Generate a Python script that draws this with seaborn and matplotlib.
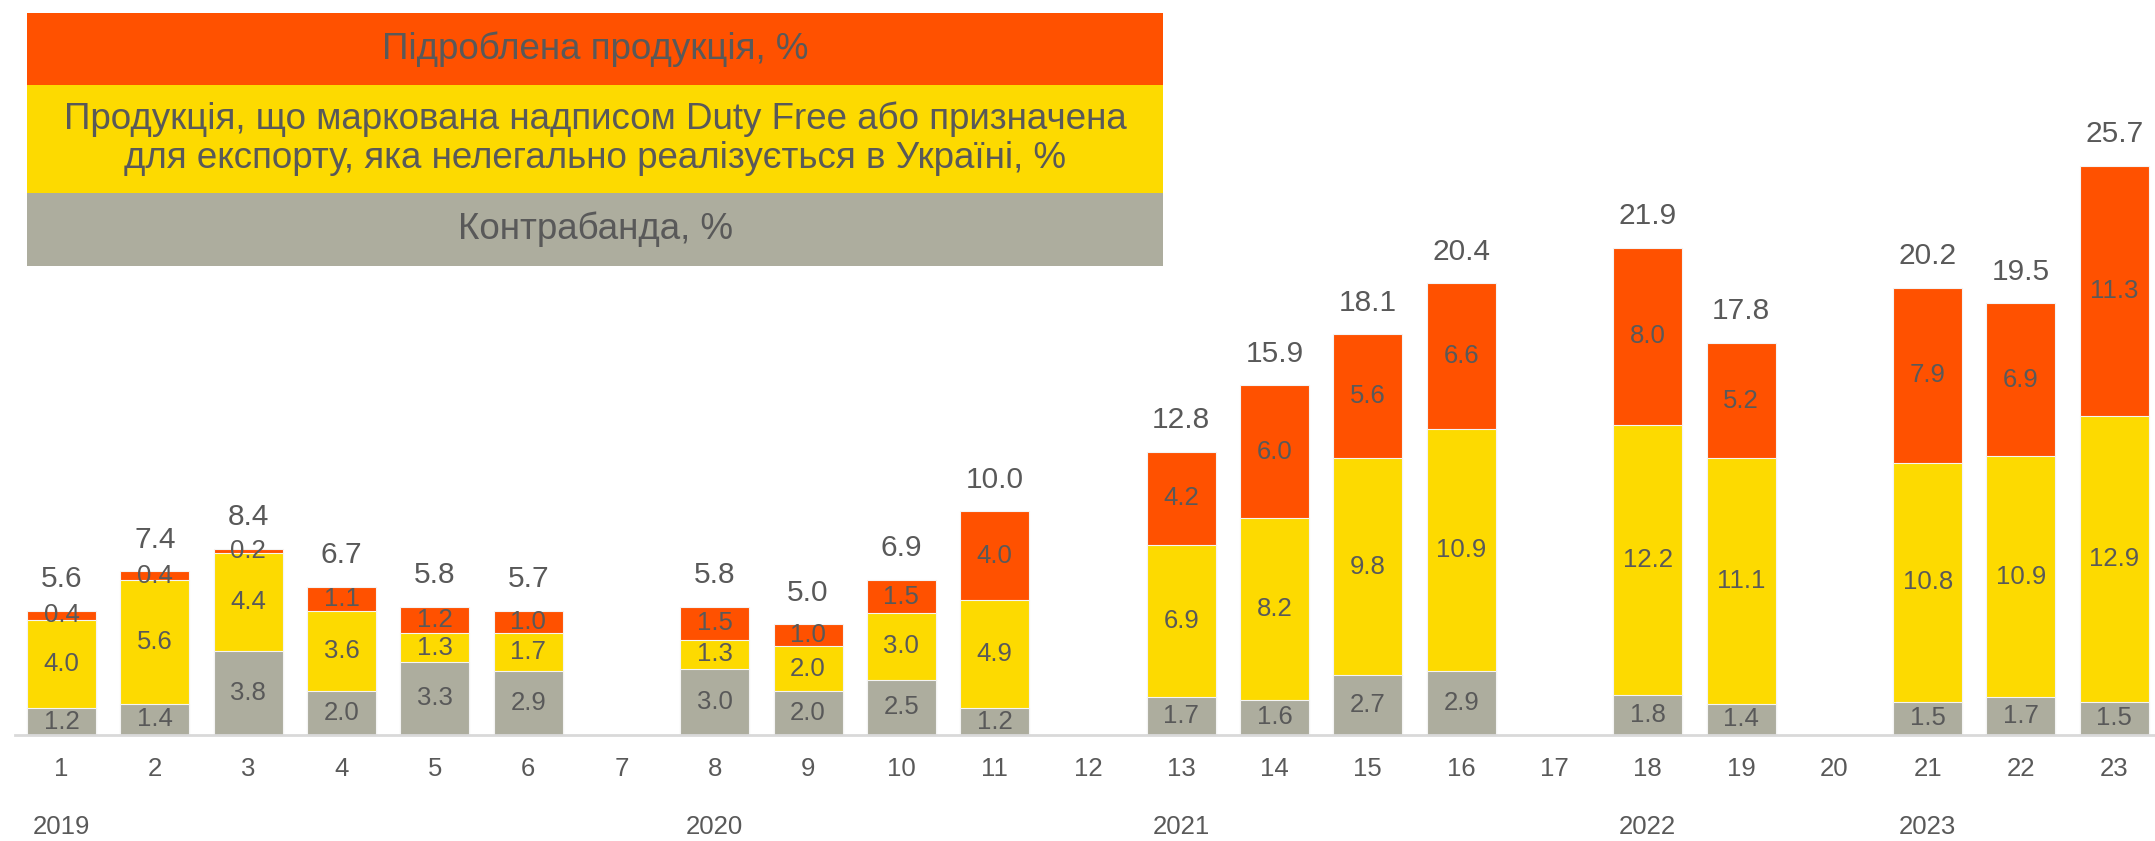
import numpy as np
import pandas as pd
import matplotlib
matplotlib.use("Agg")
import matplotlib.pyplot as plt
from matplotlib.patches import Rectangle
from matplotlib.transforms import blended_transform_factory
from matplotlib.ticker import FixedLocator
import seaborn as sns

# ---- data ----
categories = [str(i) for i in range(1, 24)]
contraband = [1.2, 1.4, 3.8, 2.0, 3.3, 2.9, np.nan, 3.0, 2.0, 2.5, 1.2, np.nan,
              1.7, 1.6, 2.7, 2.9, np.nan, 1.8, 1.4, np.nan, 1.5, 1.7, 1.5]
duty_free = [4.0, 5.6, 4.4, 3.6, 1.3, 1.7, np.nan, 1.3, 2.0, 3.0, 4.9, np.nan,
             6.9, 8.2, 9.8, 10.9, np.nan, 12.2, 11.1, np.nan, 10.8, 10.9, 12.9]
counterfeit = [0.4, 0.4, 0.2, 1.1, 1.2, 1.0, np.nan, 1.5, 1.0, 1.5, 4.0, np.nan,
               4.2, 6.0, 5.6, 6.6, np.nan, 8.0, 5.2, np.nan, 7.9, 6.9, 11.3]
totals = [5.6, 7.4, 8.4, 6.7, 5.8, 5.7, np.nan, 5.8, 5.0, 6.9, 10.0, np.nan,
          12.8, 15.9, 18.1, 20.4, np.nan, 21.9, 17.8, np.nan, 20.2, 19.5, 25.7]
year_labels = ["2019", "2020", "2021", "2022", "2023"]
year_positions = ["1", "8", "13", "18", "21"]

legend_counterfeit = "Підроблена продукція, %"
legend_dutyfree = "Продукція, що маркована надписом Duty Free або призначена\nдля експорту, яка нелегально реалізується в Україні, %"
legend_contraband = "Контрабанда, %"

C_GRAY = "#ADAD9E"
C_YELLOW = "#FDDA00"
C_ORANGE = "#FF5100"
C_TEXT = "#595959"

sns.set_style("white")
plt.rcParams["font.family"] = ["Liberation Sans", "DejaVu Sans"]

df = pd.DataFrame({"cat": categories, "gray": contraband,
                   "yellow": duty_free, "orange": counterfeit})
df["lvl1"] = df["gray"]
df["lvl2"] = df["gray"] + df["yellow"]
df["lvl3"] = df["gray"] + df["yellow"] + df["orange"]

W, H = 2155, 841
fig = plt.figure(figsize=(W / 100, H / 100), dpi=100)
ax = fig.add_axes([15 / W, (H - 735) / H, 2140 / W, 620 / H])

bw = 0.74
kw = dict(order=categories, width=bw, errorbar=None, ax=ax,
          edgecolor="#F4F4F4", linewidth=0.8)
sns.barplot(data=df, x="cat", y="lvl3", color=C_ORANGE, saturation=1, **kw)
sns.barplot(data=df, x="cat", y="lvl2", color=C_YELLOW, saturation=1, **kw)
sns.barplot(data=df, x="cat", y="lvl1", color=C_GRAY, saturation=1, **kw)

ax.set_xlim(-0.5, -0.5 + 2140 / 93.3)
ax.set_ylim(0, 28)
ax.set_xlabel("")
ax.set_ylabel("")
ax.set_yticks([])
for s in ["top", "right", "left"]:
    ax.spines[s].set_visible(False)
ax.spines["bottom"].set_color("#D9D9D9")
ax.spines["bottom"].set_linewidth(2)

ax.set_xticks(range(len(categories)))
ax.set_xticklabels(categories, fontsize=18.5, color=C_TEXT)
ax.tick_params(axis="x", which="major", length=0, pad=16)
ax.xaxis.set_minor_locator(FixedLocator(np.arange(-0.5, len(categories), 1.0)))
ax.tick_params(axis="x", which="minor", length=8, width=1.5, color="#D9D9D9", direction="out")

# segment labels
for i in range(len(categories)):
    if np.isnan(contraband[i]):
        continue
    g, y, o = contraband[i], duty_free[i], counterfeit[i]
    for base, val in ((0, g), (g, y), (g + y, o)):
        ax.text(i, base + val / 2, f"{val:.1f}", ha="center", va="center",
                fontsize=18.5, color=C_TEXT)
    top = g + y + o
    ax.annotate(f"{totals[i]:.1f}", xy=(i, top), xytext=(0, 17),
                textcoords="offset points", ha="center", va="baseline",
                fontsize=21.5, color=C_TEXT)

# year labels
tr = blended_transform_factory(ax.transData, fig.transFigure)
for lab, pos in zip(year_labels, year_positions):
    ax.text(categories.index(pos), 1 - 827 / H, lab, transform=tr,
            ha="center", va="center", fontsize=18.5, color=C_TEXT)

# legend box
x0, x1 = 27 / W, 1163 / W
bands = [(13, 85, C_ORANGE, legend_counterfeit),
         (85, 193, C_YELLOW, legend_dutyfree),
         (193, 266, C_GRAY, legend_contraband)]
for ytop, ybot, col, txt in bands:
    fig.patches.append(Rectangle((x0, 1 - ybot / H), x1 - x0, (ybot - ytop) / H,
                                 transform=fig.transFigure, facecolor=col,
                                 edgecolor="none", zorder=0))
    fig.text((x0 + x1) / 2, 1 - ((ytop + ybot) / 2) / H, txt, ha="center",
             va="center", fontsize=26.5, color=C_TEXT, linespacing=1.15)

fig.savefig("out.png", dpi=100)
